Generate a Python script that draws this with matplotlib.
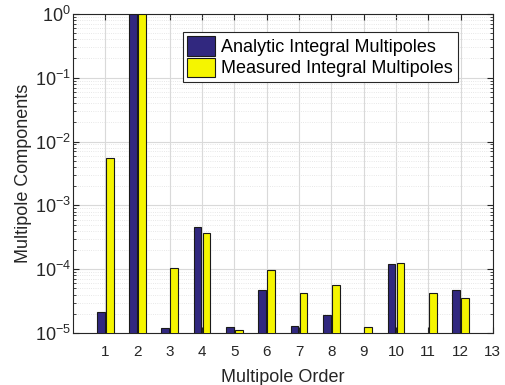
import matplotlib
matplotlib.use("Agg")
import matplotlib.pyplot as plt
import numpy as np
from matplotlib.ticker import LogLocator, NullFormatter

orders = [1, 2, 3, 4, 5, 6, 7, 8, 9, 10, 11, 12]
analytic = [2.1e-5, 1.0, 1.2e-5, 4.6e-4, 1.24e-5, 4.7e-5, 1.29e-5, 1.9e-5, 9.0e-6, 1.2e-4, 9.5e-6, 4.7e-5]
measured = [5.6e-3, 1.0, 1.03e-4, 3.65e-4, 1.1e-5, 9.6e-5, 4.2e-5, 5.6e-5, 1.23e-5, 1.23e-4, 4.2e-5, 3.55e-5]
xticks = list(range(1, 14))
labels = ["Analytic Integral Multipoles", "Measured Integral Multipoles"]

plt.rcParams['font.family'] = ['Liberation Sans', 'DejaVu Sans']
plt.rcParams['mathtext.fontset'] = 'custom'
plt.rcParams['mathtext.rm'] = 'Liberation Sans'
plt.rcParams['mathtext.it'] = 'Liberation Sans:italic'
plt.rcParams['mathtext.bf'] = 'Liberation Sans:bold'

fig = plt.figure(figsize=(5.06, 3.85), dpi=100)
ax = fig.add_axes([0.144, 0.135, 0.830, 0.829])

x = np.array(orders)
ax.bar(x - 0.14, analytic, width=0.24, color='#31287f', edgecolor='#1a1a1a', linewidth=0.8, label=labels[0], zorder=3)
ax.bar(x + 0.14, measured, width=0.24, color='#f5f500', edgecolor='#1a1a1a', linewidth=0.8, label=labels[1], zorder=3)

ax.set_yscale('log')
ax.set_ylim(1e-5, 1)
ax.set_xlim(0, 13)
ax.set_xticks(xticks)
ax.set_xticklabels([str(t) for t in xticks])
ax.yaxis.set_major_locator(LogLocator(base=10, numticks=10))
ax.yaxis.set_minor_locator(LogLocator(base=10, subs=np.arange(2, 10), numticks=20))
ax.yaxis.set_minor_formatter(NullFormatter())
ax.tick_params(axis='x', labelsize=11, labelcolor='#262626', pad=8.5)
ax.tick_params(axis='y', labelsize=13, labelcolor='#262626', pad=1.5)

ax.grid(True, which='major', color='#d9d9d9', linewidth=0.8, linestyle='-', zorder=0)
ax.grid(True, which='minor', axis='y', color='#e0e0e0', linewidth=0.6, linestyle=':', zorder=0)
ax.set_axisbelow(True)

ax.tick_params(which='both', direction='in', top=True, right=True, color='#262626')
ax.tick_params(which='major', length=4)
ax.tick_params(which='minor', length=2)
for s in ax.spines.values():
    s.set_color('#262626')
    s.set_linewidth(0.8)

ax.set_xlabel('Multipole Order', fontsize=13, color='#262626', labelpad=7)
ax.set_ylabel('Multipole Components', fontsize=13, color='#262626', labelpad=2)

leg = ax.legend(loc='upper left', bbox_to_anchor=(0.262, 0.944), fontsize=13,
                fancybox=False, framealpha=1, edgecolor='#262626',
                handlelength=1.55, handleheight=1.3, handletextpad=0.33,
                borderpad=0.25, labelspacing=0.08, borderaxespad=0)
leg.get_frame().set_linewidth(0.8)

fig.savefig('out.png', dpi=100)
